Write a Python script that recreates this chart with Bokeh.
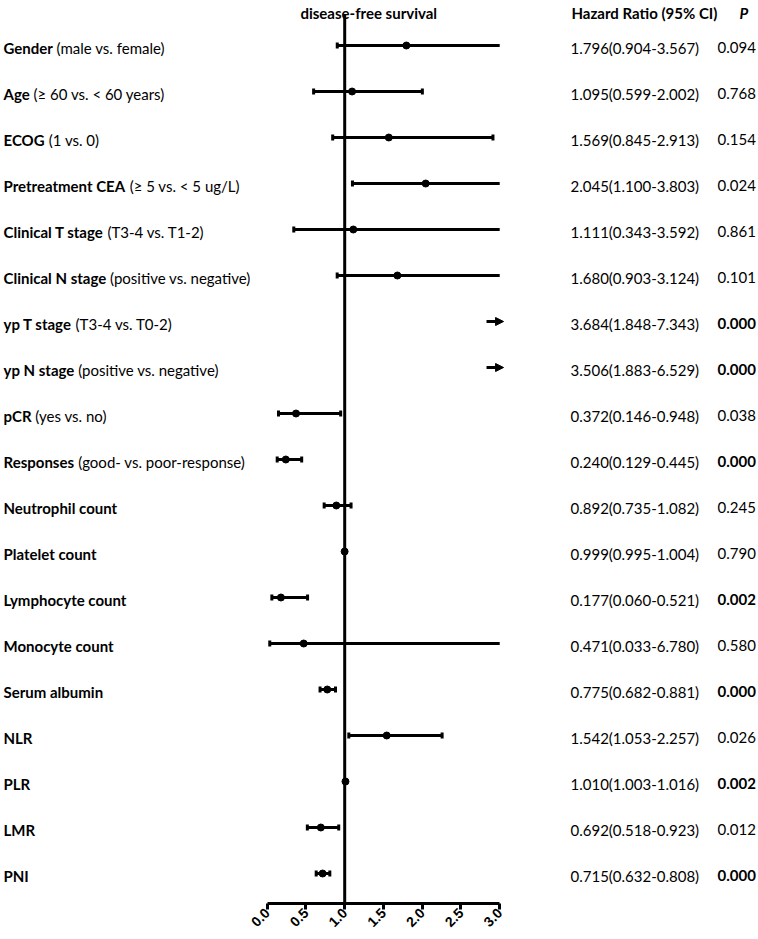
import math, os, glob, struct
from bokeh.plotting import figure
from bokeh.models import Range1d, FixedTicker, NumeralTickFormatter, Arrow, NormalHead
from bokeh.core.properties import value
from bokeh.embed import file_html
from bokeh.resources import INLINE

# ---------------- data ----------------
label_main = ["Gender", "Age", "ECOG", "Pretreatment CEA", "Clinical T stage", "Clinical N stage",
              "yp T stage", "yp N stage", "pCR", "Responses", "Neutrophil count", "Platelet count",
              "Lymphocyte count", "Monocyte count", "Serum albumin", "NLR", "PLR", "LMR", "PNI"]
label_detail = ["(male vs. female)", "(\u2265 60 vs. < 60 years)", "(1 vs. 0)", "(\u2265 5 vs. < 5 ug/L)",
                "(T3-4 vs. T1-2)", "(positive vs. negative)", "(T3-4 vs. T0-2)", "(positive vs. negative)",
                "(yes vs. no)", "(good- vs. poor-response)", "", "", "", "", "", "", "", "", ""]
hr = [1.796, 1.095, 1.569, 2.045, 1.111, 1.680, 3.684, 3.506, 0.372, 0.240,
      0.892, 0.999, 0.177, 0.471, 0.775, 1.542, 1.010, 0.692, 0.715]
ci_lower = [0.904, 0.599, 0.845, 1.100, 0.343, 0.903, 1.848, 1.883, 0.146, 0.129,
            0.735, 0.995, 0.060, 0.033, 0.682, 1.053, 1.003, 0.518, 0.632]
ci_upper = [3.567, 2.002, 2.913, 3.803, 3.592, 3.124, 7.343, 6.529, 0.948, 0.445,
            1.082, 1.004, 0.521, 6.780, 0.881, 2.257, 1.016, 0.923, 0.808]
p_values = ["0.094", "0.768", "0.154", "0.024", "0.861", "0.101", "0.000", "0.000", "0.038", "0.000",
            "0.245", "0.790", "0.002", "0.580", "0.000", "0.026", "0.002", "0.012", "0.000"]
x_ticks = [0.0, 0.5, 1.0, 1.5, 2.0, 2.5, 3.0]
null_hr = 1.0
title_text = "disease-free survival"
hr_header = "Hazard Ratio (95% CI)"
p_header = "P"

# ---------------- font metrics (for placing bold + normal label parts) ----------------
def _ttf_width_fn(path):
    data = open(path, "rb").read()
    ntab = struct.unpack(">H", data[4:6])[0]
    tabs = {}
    for i in range(ntab):
        tag, cs, off, ln = struct.unpack(">4sIII", data[12 + 16 * i:28 + 16 * i])
        tabs[tag.decode("latin1")] = off
    upm = struct.unpack(">H", data[tabs["head"] + 18:tabs["head"] + 20])[0]
    nhm = struct.unpack(">H", data[tabs["hhea"] + 34:tabs["hhea"] + 36])[0]
    ho = tabs["hmtx"]
    adv = [struct.unpack(">H", data[ho + 4 * i:ho + 4 * i + 2])[0] for i in range(nhm)]
    co = tabs["cmap"]
    n = struct.unpack(">H", data[co + 2:co + 4])[0]
    sub = None
    for i in range(n):
        pid, eid, so = struct.unpack(">HHI", data[co + 4 + 8 * i:co + 12 + 8 * i])
        fmt = struct.unpack(">H", data[co + so:co + so + 2])[0]
        if fmt == 4:
            sub = co + so
            break
    segx2 = struct.unpack(">H", data[sub + 6:sub + 8])[0]
    seg = segx2 // 2
    ends = struct.unpack(">%dH" % seg, data[sub + 14:sub + 14 + segx2])
    starts = struct.unpack(">%dH" % seg, data[sub + 16 + segx2:sub + 16 + 2 * segx2])
    deltas = struct.unpack(">%dh" % seg, data[sub + 16 + 2 * segx2:sub + 16 + 3 * segx2])
    rpos = sub + 16 + 3 * segx2
    roffs = struct.unpack(">%dH" % seg, data[rpos:rpos + segx2])

    def gid(c):
        for k in range(seg):
            if starts[k] <= c <= ends[k]:
                if roffs[k] == 0:
                    return (c + deltas[k]) & 0xFFFF
                a = rpos + 2 * k + roffs[k] + 2 * (c - starts[k])
                g = struct.unpack(">H", data[a:a + 2])[0]
                return (g + deltas[k]) & 0xFFFF if g else 0
        return 0

    def width(s, size):
        return sum(adv[min(gid(ord(ch)), nhm - 1)] for ch in s) * size / upm
    return width


def width_fn(filename, fallback_em):
    for root in ["/usr/share/fonts", "/usr/local/share/fonts", os.path.expanduser("~/.fonts"),
                 os.path.expanduser("~/.local/share/fonts")]:
        for path in glob.glob(root + "/**/" + filename, recursive=True):
            try:
                return _ttf_width_fn(path)
            except Exception:
                pass
    return lambda s, size: len(s) * size * fallback_em


FONT = "Lato"
FS = 15
bold_width = width_fn("Lato-Bold.ttf", 0.55)

# ---------------- layout (screen px) ----------------
W, H = 758, 939
BOTTOM = 36
FH = H - BOTTOM
PX = 77.5         # px per HR unit
ZERO_PX = 266.7   # frame px where HR = 0
ROW = 46.0        # px per row
AXIS_GAP = 30     # px between last row and axis
x_start = -ZERO_PX / PX
x_end = x_start + W / PX
y_start = -AXIS_GAP / ROW
y_end = y_start + FH / ROW


def fx(px):
    return x_start + px / PX


def fy_top(px):
    return y_end - px / ROW


XMAX = x_ticks[-1]
n = len(label_main)
ys = [n - 1 - i for i in range(n)]

p = figure(width=W, height=H, x_range=Range1d(x_start, x_end), y_range=Range1d(y_start, y_end),
           output_backend="svg", toolbar_location=None, tools="", y_axis_location=None,
           min_border_left=0, min_border_right=0, min_border_top=0, min_border_bottom=BOTTOM)
p.outline_line_color = None
p.xgrid.visible = False
p.ygrid.visible = False
p.background_fill_color = "white"

ax = p.xaxis[0]
ax.ticker = FixedTicker(ticks=x_ticks)
ax.bounds = (x_ticks[0], x_ticks[-1])
ax.formatter = NumeralTickFormatter(format="0.0")
ax.major_label_orientation = math.pi / 4
ax.axis_line_width = 3
ax.axis_line_color = "black"
ax.major_tick_line_width = 3
ax.major_tick_line_color = "black"
ax.major_tick_in = 0
ax.major_tick_out = 6
ax.minor_tick_line_color = None
ax.major_label_text_font = "Liberation Sans"
ax.major_label_text_font_style = "bold"
ax.major_label_text_font_size = "14px"
ax.major_label_text_color = "black"
ax.major_label_standoff = 1

# reference line at HR = 1
p.segment(x0=[null_hr], y0=[y_start], x1=[null_hr], y1=[fy_top(14)], line_width=3, line_color="black")

# CI lines / points
in_idx = [i for i in range(n) if hr[i] <= XMAX]
out_idx = [i for i in range(n) if hr[i] > XMAX]
p.segment(x0=[ci_lower[i] for i in in_idx], y0=[ys[i] for i in in_idx],
          x1=[min(ci_upper[i], XMAX) for i in in_idx], y1=[ys[i] for i in in_idx],
          line_width=3, line_color="black")
cap_x = [ci_lower[i] for i in in_idx] + [ci_upper[i] for i in in_idx if ci_upper[i] <= XMAX]
cap_y = [ys[i] for i in in_idx] + [ys[i] for i in in_idx if ci_upper[i] <= XMAX]
p.scatter(x=cap_x, y=cap_y, marker="dash", angle=math.pi / 2, size=6, line_width=3, line_color="black")
p.scatter(x=[hr[i] for i in in_idx], y=[ys[i] for i in in_idx], marker="circle", size=7,
          fill_color="black", line_color="black")
for i in out_idx:
    p.add_layout(Arrow(end=NormalHead(size=8, fill_color="black", line_color="black", line_width=1),
                       x_start=XMAX - 0.17, x_end=XMAX + 0.05, y_start=ys[i], y_end=ys[i],
                       line_width=3, line_color="black"))

# label texts
common = dict(text_font=value(FONT), text_font_size=f"{FS}px", text_baseline="middle",
              text_color="black", y_offset=2)
p.text(x=[fx(3)] * n, y=ys, text=label_main, text_font_style="bold", text_align="left", **common)
det_idx = [i for i in range(n) if label_detail[i]]
p.text(x=[fx(3 + bold_width(label_main[i] + " ", FS)) for i in det_idx], y=[ys[i] for i in det_idx],
       text=[label_detail[i] for i in det_idx], text_align="left", **common)

# table texts
HR_COL = 570
P_COL = 717
hr_text = [f"{hr[i]:.3f}({ci_lower[i]:.3f}-{ci_upper[i]:.3f})" for i in range(n)]
p.text(x=[fx(HR_COL)] * n, y=ys, text=hr_text, text_align="left", **common)
bold_p = [i for i in range(n) if float(p_values[i]) < 0.01]
norm_p = [i for i in range(n) if float(p_values[i]) >= 0.01]
p.text(x=[fx(P_COL)] * len(bold_p), y=[ys[i] for i in bold_p], text=[p_values[i] for i in bold_p],
       text_font_style="bold", text_align="left", **common)
p.text(x=[fx(P_COL)] * len(norm_p), y=[ys[i] for i in norm_p], text=[p_values[i] for i in norm_p],
       text_align="left", **common)

# headers
hy = fy_top(12.5)
hdr = dict(text_font=value(FONT), text_font_size="15px", text_baseline="alphabetic", text_color="black")
p.text(x=[1.31], y=[hy], text=[title_text], text_font_style="bold", text_align="center", **hdr)
p.text(x=[fx(HR_COL + 1)], y=[hy], text=[hr_header], text_font_style="bold", text_align="left", **hdr)
p.text(x=[fx(739)], y=[hy], text=[p_header], text_font_style="bold italic", text_align="left", **hdr)

open("out.html", "w").write(file_html(p, INLINE))
